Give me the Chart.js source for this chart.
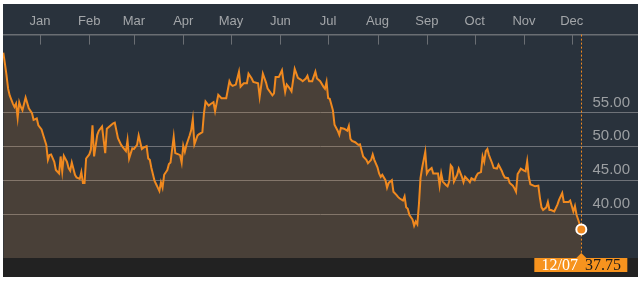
<!DOCTYPE html>
<html>
<head>
<meta charset="utf-8">
<script src="https://cdn.jsdelivr.net/npm/chart.js@4.4.1/dist/chart.umd.min.js"></script>
<style>
  body { margin: 0; background: #fff; }
  #wrap { position: absolute; left: 3px; top: 4px; width: 635px; height: 273px; background: #29323c; }
</style>
</head>
<body>
<div id="wrap"><canvas id="chart"></canvas></div>
<script>
// day offsets from Jan 1 (negative = previous December)
const days = [
  -23,-22,-21,-20,-19,-17,-16,-15,-14,-13,-12,-11,-9,-7,-5,-4,-2,-1,
  1,2,4,5,6,7,9,10,12,13,14,15,17,18,19,20,22,23,25,26,27,28,29,
  31,32,33,34,36,37,39,41,42,44,46,47,49,51,53,54,55,56,58,
  59,61,62,64,65,67,68,69,70,72,73,74,75,76,77,78,80,81,82,84,85,87,88,89,
  90,91,92,94,95,96,97,99,100,102,103,104,106,107,109,110,112,114,115,117,
  119,120,121,123,125,126,128,130,131,133,134,137,138,140,142,143,146,147,148,150,
  152,153,154,155,157,158,160,162,164,165,167,168,169,171,173,174,176,178,179,180,
  181,182,184,185,187,188,189,191,193,194,195,196,198,200,201,203,205,206,208,209,210,
  212,213,214,215,217,218,219,221,222,224,225,226,228,229,230,231,232,234,235,236,237,
  238,239,240,241,242,243,244,246,247,249,250,251,252,253,255,256,257,258,259,260,
  262,263,265,266,267,269,270,271,273,274,275,277,278,279,280,281,282,284,285,287,288,
  290,291,292,294,295,297,298,299,300,301,302,304,305,306,307,308,310,311,313,314,
  315,316,318,319,320,321,323,325,326,328,329,330,332,333,335,336,337,338,340
];
const prices = [
  63.8,62.2,60.5,58.5,57.5,56.3,55.8,56.3,54.2,56.5,55.8,55.3,57.2,55.6,54.9,53.9,54.1,53.1,
  52.5,51.7,50.2,48.0,48.7,48.8,47.7,46.5,46.0,48.5,46.3,48.6,47.7,46.8,46.4,47.6,45.8,45.4,45.2,46.2,44.6,44.6,48.2,
  48.8,49.5,53.1,48.5,51.7,52.3,52.9,49.0,52.6,53.0,53.4,53.5,51.2,50.2,49.6,49.3,50.9,48.2,49.7,
  49.6,50.2,51.6,49.6,49.8,50.0,48.2,48.0,46.8,44.9,44.4,43.9,43.4,44.7,43.9,45.8,46.5,47.4,47.6,51.4,49.0,48.8,48.7,47.6,
  50.1,49.2,50.2,51.6,52.4,54.0,50.3,51.6,51.8,52.1,54.9,56.6,56.0,56.2,56.5,55.2,57.6,57.1,57.1,57.1,
  59.6,59.1,58.9,59.1,61.0,58.8,59.3,59.3,60.7,60.0,59.5,59.3,57.3,60.7,59.4,58.5,57.5,57.8,60.2,60.2,
  61.2,59.5,58.0,59.1,58.5,58.1,61.4,60.1,59.8,59.6,60.0,60.4,59.6,59.6,61.0,60.0,59.6,58.8,58.5,59.5,
  57.1,57.0,55.3,53.2,52.3,51.7,52.7,52.6,52.3,53.0,51.1,50.8,50.6,50.2,50.3,48.5,48.0,47.5,48.0,48.8,48.0,
  46.9,46.0,45.5,45.8,45.0,43.9,44.6,45.0,43.3,42.8,42.5,42.3,42.0,42.6,41.0,40.8,39.9,39.2,38.3,38.9,38.5,
  41.4,45.3,46.8,48.0,49.2,46.0,46.4,46.8,46.0,46.0,46.0,44.2,46.0,44.8,44.3,44.1,44.8,47.2,46.9,44.8,
  45.8,46.7,45.5,44.7,45.5,45.0,44.7,45.3,45.0,45.6,46.0,46.2,48.5,47.7,49.3,49.6,48.7,47.5,46.8,46.7,47.3,
  46.4,45.8,45.4,45.3,44.6,44.2,43.8,43.3,45.9,46.3,46.7,46.4,46.3,47.8,45.5,44.4,44.2,44.1,44.2,42.4,
  41.0,40.6,41.0,41.8,40.6,40.6,40.4,41.4,42.1,43.1,41.8,41.8,41.8,42.0,40.4,41.2,39.9,39.2,37.75
];
const monthStarts = [0, 31, 59, 90, 120, 151, 181, 212, 243, 273, 304, 334];
const monthNames = ["Jan", "Feb", "Mar", "Apr", "May", "Jun", "Jul", "Aug", "Sep", "Oct", "Nov", "Dec"];
const yTicks = [40, 45, 50, 55];

const orange = "#f0891f";
const last = days.length - 1;

function fmtDay(d) {
  let dt = new Date(2015, 0, 1 + d);
  let mm = String(dt.getMonth() + 1).padStart(2, "0");
  let dd = String(dt.getDate()).padStart(2, "0");
  return mm + "/" + dd;
}

const decor = {
  id: "decor",
  beforeDraw(chart) {
    let { ctx, chartArea, width, height } = chart;
    ctx.save();
    ctx.fillStyle = "#222222";
    ctx.fillRect(0, chartArea.bottom, width, height - chartArea.bottom);
    ctx.restore();
  },
  beforeDatasetsDraw(chart) {
    let { ctx, chartArea, scales } = chart;
    ctx.save();
    // month tick marks hanging below the top axis
    ctx.strokeStyle = "#6a6e73";
    ctx.lineWidth = 1;
    monthStarts.forEach((m) => {
      let x = Math.round(scales.x.getPixelForValue(m)) + 0.5;
      ctx.beginPath();
      ctx.moveTo(x, chartArea.top);
      ctx.lineTo(x, chartArea.top + 10);
      ctx.stroke();
    });
    // dotted cursor line at the last point
    let pt = chart.getDatasetMeta(0).data[last];
    ctx.strokeStyle = orange;
    ctx.setLineDash([2, 2]);
    ctx.beginPath();
    ctx.moveTo(Math.round(pt.x) + 0.5, chartArea.top);
    ctx.lineTo(Math.round(pt.x) + 0.5, chartArea.bottom);
    ctx.stroke();
    ctx.restore();
  },
  afterDatasetsDraw(chart) {
    let { ctx, chartArea } = chart;
    let pt = chart.getDatasetMeta(0).data[last];
    let x = pt.x;
    let y0 = chartArea.bottom;
    ctx.save();
    ctx.fillStyle = "#f7931e";
    ctx.fillRect(x - 47, y0, 93, 14);
    ctx.beginPath();
    ctx.moveTo(x - 5, y0);
    ctx.lineTo(x, y0 - 5);
    ctx.lineTo(x + 5, y0);
    ctx.fill();
    ctx.font = "16px 'Liberation Serif', 'DejaVu Serif', serif";
    ctx.textBaseline = "middle";
    let t1 = fmtDay(days[last]);
    let t2 = prices[last].toFixed(2);
    let w1 = ctx.measureText(t1).width;
    let w2 = ctx.measureText(t2).width;
    let gap = 7;
    let sx = x - (w1 + gap + w2) / 2;
    ctx.fillStyle = "#ffffff";
    ctx.fillText(t1, sx, y0 + 7.5);
    ctx.fillStyle = "#1a1a1a";
    ctx.fillText(t2, sx + w1 + gap, y0 + 7.5);
    ctx.restore();
  },
};

new Chart(document.getElementById("chart"), {
  type: "line",
  data: {
    datasets: [
      {
        data: days.map((d, i) => ({ x: d, y: prices[i] })),
        borderColor: orange,
        borderWidth: 2,
        backgroundColor: "rgba(242,140,40,0.16)",
        fill: "start",
        tension: 0,
        pointRadius: (c) => (c.dataIndex === last ? 5 : 0),
        pointBackgroundColor: orange,
        pointBorderColor: "#ffffff",
        pointBorderWidth: 2,
      },
    ],
  },
  options: {
    responsive: true,
    maintainAspectRatio: false,
    animation: false,
    layout: { autoPadding: false, padding: { top: 5, bottom: 19, left: 0, right: 0 } },
    plugins: { legend: { display: false }, tooltip: { enabled: false } },
    scales: {
      x: {
        type: "linear",
        position: "top",
        min: -23.2,
        max: 375.6,
        afterBuildTicks: (s) => {
          s.ticks = monthStarts.map((v) => ({ value: v }));
        },
        ticks: {
          callback: (v) => monthNames[monthStarts.indexOf(v)],
          color: "#a3a6a9",
          font: { family: "'Liberation Sans', Arial, sans-serif", size: 13 },
          padding: 5,
          maxRotation: 0,
          autoSkip: false,
        },
        grid: { drawOnChartArea: false, drawTicks: false },
        border: { display: true, color: "#6a6e73", width: 1.5 },
      },
      y: {
        position: "right",
        min: 33.53,
        max: 66.47,
        afterBuildTicks: (s) => {
          s.ticks = yTicks.map((v) => ({ value: v }));
        },
        afterFit: (s) => {
          s.width = 0;
        },
        ticks: {
          mirror: true,
          callback: (v) => v.toFixed(2),
          color: "#9c9fa2",
          font: { family: "'Liberation Sans', Arial, sans-serif", size: 15 },
          padding: -8,
          labelOffset: -10,
        },
        grid: { color: "#6e7278", lineWidth: 1, drawTicks: false },
        border: { display: false },
      },
    },
  },
  plugins: [decor],
});
</script>
</body>
</html>
